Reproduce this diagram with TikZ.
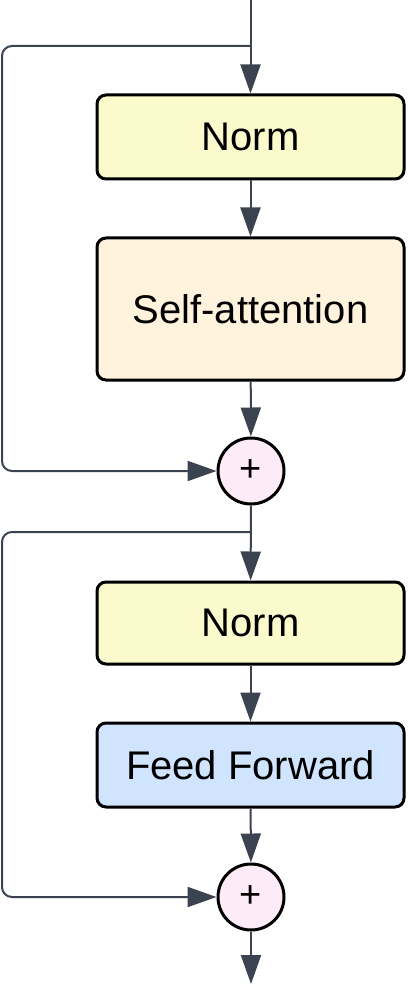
\documentclass[tikz,border=0pt]{standalone}
\usepackage{fontspec}
\setmainfont{Liberation Sans}
\usetikzlibrary{arrows.meta}
\definecolor{lineC}{HTML}{3B4250}
\definecolor{yelC}{HTML}{FAFACC}
\definecolor{oraC}{HTML}{FFF3DD}
\definecolor{pinC}{HTML}{FDEBF8}
\definecolor{bluC}{HTML}{D0E4FD}
\tikzset{
  blockbox/.style={draw=black, line width=3pt, rounded corners=9pt, minimum width=307pt, inner sep=0pt, font=\fontsize{40}{44}\selectfont},
  addnode/.style={draw=black, line width=3pt, circle, fill=pinC, minimum size=66pt, inner sep=0pt, font=\fontsize{38}{38}\selectfont},
  conn/.style={draw=lineC, line width=2pt, -{Triangle[length=29pt,width=20pt]}},
  side/.style={draw=lineC, line width=2pt, rounded corners=10pt, -{Triangle[length=29pt,width=20pt]}}
}
\begin{document}
\begin{tikzpicture}[x=1pt,y=-1pt]
\useasboundingbox (0,0) rectangle (407,984);
\node[blockbox, fill=yelC, minimum height=84pt] (norm1) at (250.5,137) {Norm};
\node[blockbox, fill=oraC, minimum height=142pt] (attn) at (250.5,309) {Self-attention};
\node[addnode] (add1) at (251,471) {+};
\node[blockbox, fill=yelC, minimum height=82pt] (norm2) at (250.5,623) {Norm};
\node[blockbox, fill=bluC, minimum height=84pt] (ff) at (250.5,765) {Feed Forward};
\node[addnode] (add2) at (251,897) {+};
\coordinate (in) at (250.5,0);
\coordinate (b1) at (250.5,46);
\coordinate (b2) at (251,532);
\coordinate (out) at (251,984);
\draw[conn] (in) -- (norm1);
\draw[conn] (norm1) -- (attn);
\draw[conn] (attn) -- (add1);
\draw[conn] (add1) -- (norm2);
\draw[conn] (norm2) -- (ff);
\draw[conn] (ff) -- (add2);
\draw[conn] (add2) -- (out);
\draw[side] (b1) -- (2,46) -- (2,471) -- (add1.west);
\draw[side] (b2) -- (2,532) -- (2,897) -- (add2.west);
\end{tikzpicture}
\end{document}
